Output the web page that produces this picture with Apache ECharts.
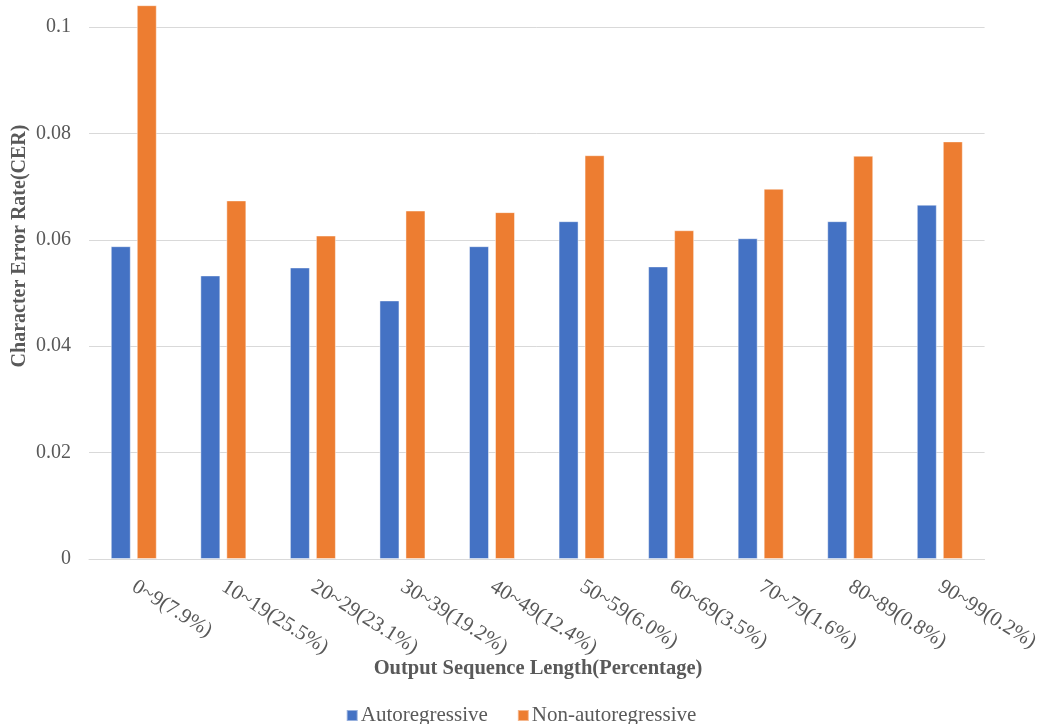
<!DOCTYPE html>
<html>
<head>
<meta charset="utf-8">
<title>CER by Output Sequence Length</title>
<script src="https://cdn.jsdelivr.net/npm/echarts@6/dist/echarts.min.js"></script>
<style>
  html, body { margin: 0; padding: 0; background: #ffffff; }
  #chart { width: 1042px; height: 724px; }
</style>
</head>
<body>
<div id="chart"></div>
<script>
// Output sequence length buckets (share of test set in parentheses)
const categories = [
  '0~9(7.9%)', '10~19(25.5%)', '20~29(23.1%)', '30~39(19.2%)', '40~49(12.4%)',
  '50~59(6.0%)', '60~69(3.5%)', '70~79(1.6%)', '80~89(0.8%)', '90~99(0.2%)'
];
// Character error rate per bucket
const autoregressive = [0.0588, 0.0533, 0.0548, 0.0486, 0.0588, 0.0635, 0.0550, 0.0603, 0.0635, 0.0666];
const nonAutoregressive = [0.1041, 0.0674, 0.0608, 0.0655, 0.0652, 0.0759, 0.0618, 0.0696, 0.0758, 0.0785];

const FONT = '"Liberation Serif", "Times New Roman", serif';
const TEXT = '#595959';
const GRID = '#d9d9d9';

const chart = echarts.init(document.getElementById('chart'), null, { renderer: 'canvas' });

chart.setOption({
  backgroundColor: '#ffffff',
  animation: false,
  textStyle: { fontFamily: FONT },
  grid: { left: 89, right: 55, top: 27, bottom: 165, containLabel: false },
  legend: {
    top: 700,
    left: 'center',
    itemWidth: 11,
    itemHeight: 11,
    itemGap: 29,
    icon: 'rect',
    textStyle: { fontFamily: FONT, fontSize: 21, color: TEXT, padding: [0, 0, 0, -2] },
    data: ['Autoregressive', 'Non-autoregressive']
  },
  graphic: [
    {
      type: 'text',
      x: 20,
      y: 246,
      rotation: Math.PI / 2,
      style: {
        text: 'Character Error Rate(CER)',
        fontFamily: FONT,
        fontSize: 20,
        fontWeight: 'bold',
        fill: TEXT,
        align: 'center',
        verticalAlign: 'middle'
      }
    },
    {
      type: 'text',
      x: 538,
      y: 669,
      style: {
        text: 'Output Sequence Length(Percentage)',
        fontFamily: FONT,
        fontSize: 20.5,
        fontWeight: 'bold',
        fill: TEXT,
        align: 'center',
        verticalAlign: 'middle'
      }
    }
  ],
  xAxis: {
    type: 'category',
    data: categories,
    axisLine: { lineStyle: { color: GRID, width: 1 } },
    axisTick: { show: false },
    axisLabel: {
      interval: 0,
      rotate: -32,
      margin: 26,
      fontFamily: FONT,
      fontSize: 21,
      color: TEXT
    }
  },
  yAxis: {
    type: 'value',
    min: 0,
    max: 0.1,
    interval: 0.02,
    axisLine: { show: false },
    axisTick: { show: false },
    splitLine: { lineStyle: { color: GRID, width: 1 } },
    axisLabel: {
      margin: 18,
      fontFamily: FONT,
      fontSize: 20,
      color: TEXT
    }
  },
  series: [
    {
      name: 'Autoregressive',
      type: 'bar',
      data: autoregressive,
      barWidth: 20,
      barGap: '30%',
      clip: false,
      itemStyle: { color: '#4472c4', borderColor: 'rgba(255,255,255,0.45)', borderWidth: 1 }
    },
    {
      name: 'Non-autoregressive',
      type: 'bar',
      data: nonAutoregressive,
      barWidth: 20,
      barGap: '30%',
      clip: false,
      itemStyle: { color: '#ed7d31', borderColor: 'rgba(255,255,255,0.45)', borderWidth: 1 }
    }
  ]
});
</script>
</body>
</html>
